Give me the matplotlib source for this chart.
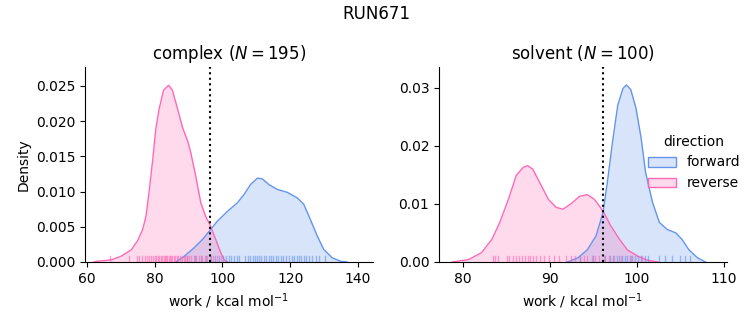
import numpy as np
import matplotlib
matplotlib.use("Agg")
import matplotlib.pyplot as plt
from matplotlib.patches import Patch

# density curves
cx_rev_x = [62, 63.1, 67.1, 70.0, 73.0, 74.9, 76.4, 77.4, 78.4, 79.4, 80.3, 81.3, 82.6,
            84.1, 85.2, 86.7, 88.2, 89.7, 90.6, 92.1, 93.6, 95.0, 96.3, 98.0, 99.5,
            100.5, 101.5]
cx_rev_y = [0, 0.0001, 0.0003, 0.0008, 0.0017, 0.0030, 0.0046, 0.0065, 0.0103, 0.0146,
            0.0189, 0.0218, 0.0244, 0.0251, 0.0244, 0.0218, 0.0191, 0.0172, 0.0156,
            0.0122, 0.0084, 0.0065, 0.0053, 0.0032, 0.0013, 0.0003, 0]
cx_fwd_x = [86.2, 88.7, 91.6, 94.1, 96.3, 98.5, 101.5, 104.4, 106.4, 108.3, 110.3, 111.8,
            113.7, 116.2, 119.1, 122.1, 124.0, 126.0, 128.0, 129.9, 132.4, 134.9, 136.8]
cx_fwd_y = [0, 0.0008, 0.0020, 0.0032, 0.0045, 0.0058, 0.0072, 0.0084, 0.0096, 0.0110,
            0.0119, 0.0118, 0.0110, 0.0103, 0.0099, 0.0091, 0.0082, 0.0060, 0.0037,
            0.0018, 0.0006, 0.0001, 0]

sv_rev_x = [78.7, 80.6, 82.1, 83.3, 84.2, 85.2, 86.1, 86.9, 87.4, 88.0, 88.8, 89.8, 90.7,
            91.5, 92.4, 93.4, 94.3, 95.1, 96.1, 97.0, 98.0, 98.9, 100.1, 101.2, 102.4]
sv_rev_y = [0, 0.0004, 0.0016, 0.0039, 0.0068, 0.0108, 0.0149, 0.0163, 0.0166, 0.0160,
            0.0137, 0.0108, 0.0094, 0.0091, 0.0100, 0.0113, 0.0116, 0.0108, 0.0088,
            0.0062, 0.0039, 0.0021, 0.0010, 0.0003, 0]
sv_fwd_x = [92.0, 93.2, 94.3, 95.3, 96.1, 96.6, 97.2, 97.8, 98.4, 98.8, 99.3, 99.9, 100.5,
            101.0, 101.8, 102.6, 103.5, 104.5, 105.2, 106.0, 107.0, 107.9]
sv_fwd_y = [0, 0.0007, 0.0021, 0.0045, 0.0085, 0.0137, 0.0207, 0.0270, 0.0299, 0.0305,
            0.0297, 0.0265, 0.0213, 0.0155, 0.0103, 0.0068, 0.0056, 0.0050, 0.0039,
            0.0021, 0.0007, 0]

# rug positions (approximate)
cx_rev_rug = [66.7, 72.5, 74.6, 75.4, 76.3, 77.0, 77.8, 78.4, 79.0, 79.5, 80.0, 80.4,
              80.9, 81.3, 81.8, 82.2, 82.6, 83.0, 83.3, 83.7, 84.1, 84.4, 84.8, 85.2,
              85.6, 86.0, 86.5, 87.0, 87.4, 87.9, 88.5, 89.0, 89.6, 90.2, 90.8, 91.5,
              92.2, 93.0, 93.8, 94.7, 95.5, 96.4, 97.3, 98.5, 99.6]
cx_fwd_rug = [89.4, 91.8, 93.6, 95.0, 96.5, 97.8, 99.0, 100.2, 101.0, 101.8, 102.6,
              103.4, 104.2, 105.0, 106.8, 107.5, 108.2, 108.9, 109.6, 110.2, 110.9,
              111.5, 112.2, 112.9, 113.6, 114.3, 115.0, 115.8, 116.5, 117.3, 118.0,
              118.8, 119.6, 120.4, 121.2, 121.9, 122.6, 123.3, 124.0, 124.8, 125.6,
              126.5, 127.5, 128.6, 130.2]
sv_rev_rug = [83.4, 83.7, 84.0, 85.0, 85.3, 85.7, 86.1, 86.4, 86.8, 87.1, 87.4, 87.7,
              88.0, 88.4, 88.8, 89.3, 89.9, 90.5, 91.0, 91.8, 92.4, 92.9, 93.4, 93.9,
              94.3, 94.8, 95.2, 95.6, 96.2, 96.8, 97.4, 98.2, 99.3, 100.6]
sv_fwd_rug = [93.4, 95.0, 96.3, 96.9, 97.3, 97.7, 98.0, 98.3, 98.6, 98.9, 99.2, 99.5,
              99.8, 100.1, 100.5, 100.9, 101.3, 102.5, 103.3, 104.0, 105.0, 105.6, 106.1]

panels = [
    ("complex ($N=195$)", cx_fwd_x, cx_fwd_y, cx_rev_x, cx_rev_y, cx_fwd_rug, cx_rev_rug,
     96.3, (59.4, 144.4), (0, 0.0277), [0, 0.005, 0.01, 0.015, 0.02, 0.025], "%.3f"),
    ("solvent ($N=100$)", sv_fwd_x, sv_fwd_y, sv_rev_x, sv_rev_y, sv_fwd_rug, sv_rev_rug,
     96.1, (77.2, 110.35), (0, 0.0336), [0, 0.01, 0.02, 0.03], "%.2f"),
]

fwd_col = "cornflowerblue"
rev_col = "hotpink"

fig = plt.figure(figsize=(7.53, 3.25), dpi=100)
fig.suptitle("RUN671", fontsize=12, y=0.985)
lefts = [0.113, 0.583]
for i, (title, fx, fy, rx, ry, frug, rrug, vx, xl, yl, yt, fmt) in enumerate(panels):
    ax = fig.add_axes([lefts[i], 0.194, 0.382, 0.60])
    for x, y, c in [(fx, fy, fwd_col), (rx, ry, rev_col)]:
        ax.fill_between(x, y, color=c, alpha=0.25, lw=0)
        ax.plot(x, y, color=c, lw=1, solid_joinstyle="round")
    for rug, c in [(frug, fwd_col), (rrug, rev_col)]:
        for v in rug:
            ax.axvline(v, ymin=0, ymax=0.03, color=c, lw=1.0, alpha=0.6)
    ax.axvline(vx, color="black", ls=":", lw=1.5)
    ax.set_xlim(*xl)
    ax.set_ylim(*yl)
    ax.set_yticks(yt)
    ax.yaxis.set_major_formatter(matplotlib.ticker.FormatStrFormatter(fmt))
    ax.set_title(title, fontsize=12)
    ax.set_xlabel("work / kcal mol$^{-1}$")
    if i == 0:
        ax.set_ylabel("Density")
    ax.spines["top"].set_visible(False)
    ax.spines["right"].set_visible(False)

handles = [Patch(facecolor=matplotlib.colors.to_rgba(fwd_col, 0.25), edgecolor=fwd_col),
           Patch(facecolor=matplotlib.colors.to_rgba(rev_col, 0.25), edgecolor=rev_col)]
fig.legend(handles, ["forward", "reverse"], title="direction", loc="center right",
           bbox_to_anchor=(1.0, 0.5), frameon=False)

fig.savefig("out.png", dpi=100)
